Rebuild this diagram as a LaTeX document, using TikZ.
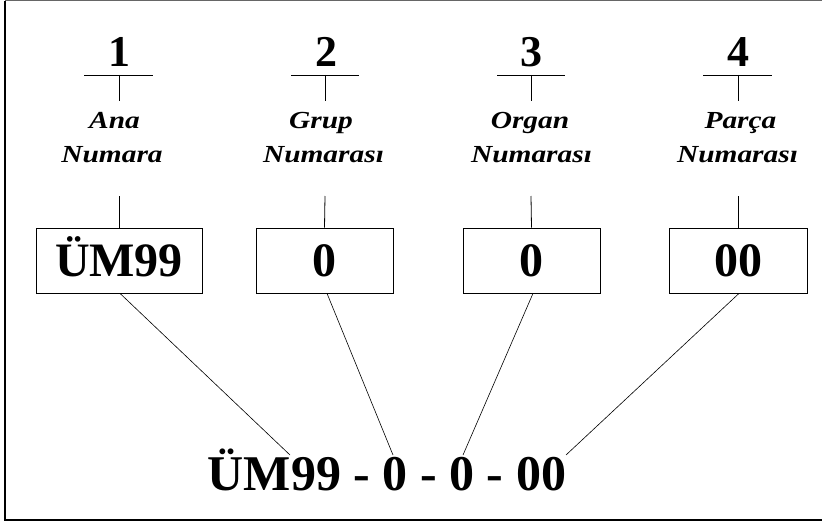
\documentclass[tikz,border=0pt]{standalone}
\usepackage{fontspec}
\usepackage{graphicx}
\setmainfont{Liberation Serif}
\newcommand{\labw}[1]{\scalebox{1.2}[1]{#1}}
\begin{document}
\begin{tikzpicture}[x=1pt,y=-1pt,
  ln/.style={line width=0.8pt, black},
  numtxt/.style={font=\fontsize{44}{44}\selectfont\bfseries, inner sep=0pt, text height=29.7pt, text depth=0pt},
  labtxt/.style={font=\fontsize{24.5}{24.5}\selectfont\bfseries\itshape, inner sep=0pt, anchor=base},
  valbox/.style={draw, line width=0.8pt, font=\fontsize{48}{48}\selectfont\bfseries, inner sep=0pt, text height=31.8pt, text depth=0pt, minimum height=65pt},
  codetxt/.style={font=\fontsize{50}{50}\selectfont\bfseries, inner sep=0pt, anchor=base}]
\useasboundingbox (0,0) rectangle (822,524);
\draw[line width=1pt, black!60] (5,1) -- (826,1);
\draw[line width=1.2pt] (5,1) -- (5,520) -- (826,520);

% numbers
\node[numtxt] (n1) at (119,52) {1};
\node[numtxt] (n2) at (326,52) {2};
\node[numtxt] (n3) at (531,52) {3};
\node[numtxt] (n4) at (738,52) {4};

% rule lines under numbers
\foreach \i/\a/\b/\c in {1/84/153/119, 2/291/359/325, 3/497/565/531, 4/703/772/738}{
  \coordinate (l\i a) at (\a,75);
  \coordinate (l\i b) at (\b,75);
  \coordinate (l\i c) at (\c,75);
  \coordinate (l\i d) at (\c,101);
  \coordinate (l\i e) at (\c,196);
  \draw[ln] (l\i a) -- (l\i b);
  \draw[ln] (l\i c) -- (l\i d);
}

% labels
\node[labtxt] (t1a) at (114.5,129) {\labw{Ana}};
\node[labtxt] (t1b) at (112,163) {\labw{Numara}};
\node[labtxt] (t2a) at (321,129) {\labw{Grup}};
\node[labtxt] (t2b) at (323.5,163) {\labw{Numarası}};
\node[labtxt] (t3a) at (530,129) {\labw{Organ}};
\node[labtxt] (t3b) at (531.5,163) {\labw{Numarası}};
\node[labtxt] (t4a) at (740.5,129) {\labw{Parça}};
\node[labtxt] (t4b) at (737.5,163) {\labw{Numarası}};

% value boxes
\node[valbox, minimum width=166pt] (b1) at (119,260.5) {ÜM99};
\node[valbox, minimum width=137pt] (b2) at (324.5,260.5) {0};
\node[valbox, minimum width=137pt] (b3) at (531.5,260.5) {0};
\node[valbox, minimum width=138pt] (b4) at (738,260.5) {00};

\draw[ln] (l1e) -- (b1.north);
\draw[ln] (l2e) -- (b2.north);
\draw[ln] (l3e) -- (b3.north);
\draw[ln] (l4e) -- (b4.north);

% full code
\node[codetxt] (code) at (387,490) {ÜM99 - 0 - 0 - 00};
\coordinate (e1) at (290,455);
\coordinate (e2) at (393,455);
\coordinate (e3) at (463,455);
\coordinate (e4) at (566,455);

\draw[line width=0.6pt] ([xshift=1pt]b1.south) -- (e1);
\draw[line width=0.6pt] ([xshift=2.5pt]b2.south) -- (e2);
\draw[line width=0.6pt] ([xshift=1.5pt]b3.south) -- (e3);
\draw[line width=0.6pt] ([xshift=1pt]b4.south) -- (e4);
\end{tikzpicture}
\end{document}
